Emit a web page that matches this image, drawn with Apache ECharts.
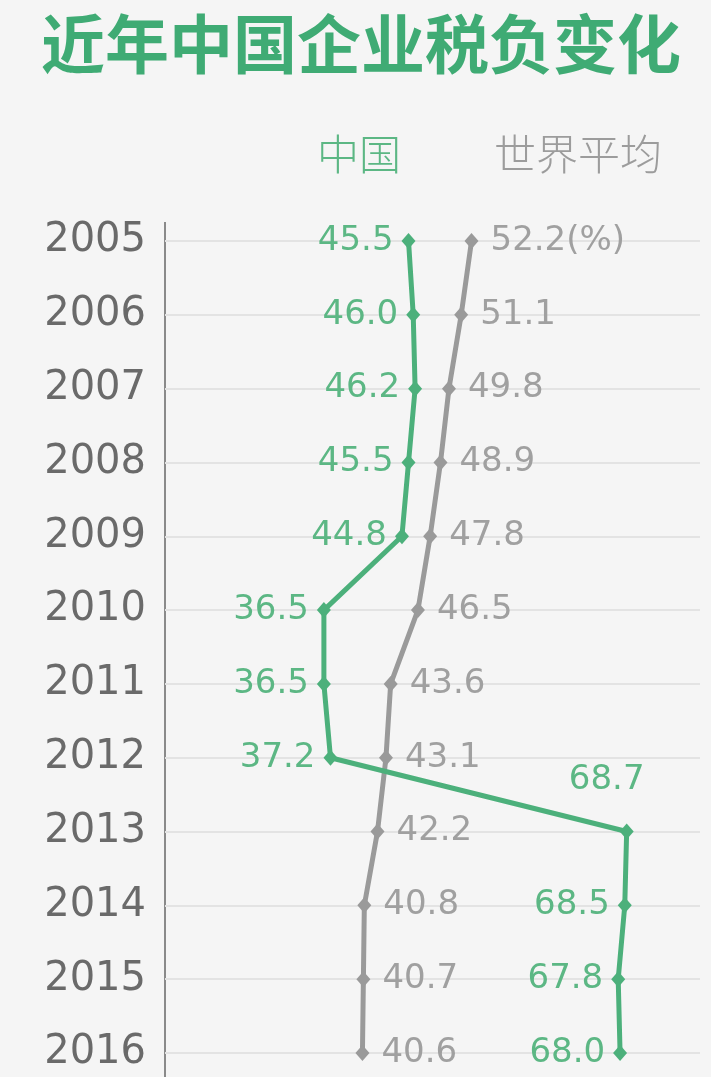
<!DOCTYPE html>
<html><head><meta charset="utf-8">
<script src="https://cdn.jsdelivr.net/npm/echarts@6/dist/echarts.min.js"></script>
<style>html,body{margin:0;padding:0;background:#f5f5f5;}#c{width:711px;height:1077px;}</style>
</head><body><div id="c"></div>
<script>
const years = ['2005','2006','2007','2008','2009','2010','2011','2012','2013','2014','2015','2016'];
const china = [45.5, 46.0, 46.2, 45.5, 44.8, 36.5, 36.5, 37.2, 68.7, 68.5, 67.8, 68.0];
const world = [52.2, 51.1, 49.8, 48.9, 47.8, 46.5, 43.6, 43.1, 42.2, 40.8, 40.7, 40.6];
const seriesNames = ['中国', '世界平均'];
const titleText = '近年中国企业税负变化';

const GREEN = '#4cb07b';
const GRAY = '#9a9a9a';
const numFont = "'DejaVu Sans', sans-serif";
const cjk = "'Noto Sans CJK SC', sans-serif";

const chart = echarts.init(document.getElementById('c'));
chart.setOption({
  backgroundColor: '#f5f5f5',
  animation: false,
  title: {
    text: titleText, left: 36, top: 7,
    textStyle: { fontFamily: cjk, fontSize: 64, fontWeight: 'bold', color: '#3fab74' }
  },
  legend: {
    data: [
      { name: seriesNames[0], textStyle: { color: '#5cb784' } },
      { name: seriesNames[1], textStyle: { color: '#9c9c9c' } }
    ],
    left: 307, top: 128, itemGap: 88, itemWidth: 0, itemHeight: 0, icon: 'rect',
    textStyle: { fontFamily: cjk, fontSize: 42, fontWeight: 300 }
  },
  grid: { left: 165, right: 11, top: 241, bottom: 24 },
  xAxis: {
    type: 'value', min: 19.6, max: 76.5,
    show: false, splitLine: { show: false }
  },
  yAxis: {
    type: 'category', data: years, inverse: true, boundaryGap: false,
    axisLine: { show: false },
    axisTick: { show: false },
    axisLabel: { margin: 19, fontFamily: numFont, fontSize: 40, color: '#6a6a6a' },
    splitLine: { show: true, lineStyle: { color: '#e3e3e3', width: 2 } }
  },
  graphic: [{
    type: 'line', shape: { x1: 165, y1: 222, x2: 165, y2: 1077 },
    style: { stroke: '#8a8a8a', lineWidth: 2 }
  }],
  series: [
    {
      name: seriesNames[0], type: 'line', data: china.map((v, i) => {
        const d = { value: v };
        if (i === 8) d.label = { position: 'top', distance: 26, offset: [-20, 0] };
        return d;
      }),
      color: GREEN,
      lineStyle: { width: 5, color: GREEN },
      symbol: 'diamond', symbolSize: [14, 16], itemStyle: { color: GREEN },
      label: {
        show: true, position: 'left', distance: 8,
        fontFamily: numFont, fontSize: 34, color: '#5cb784',
        formatter: p => p.value.toFixed(1)
      },
      z: 3
    },
    {
      name: seriesNames[1], type: 'line', data: world,
      color: GRAY,
      lineStyle: { width: 5, color: GRAY },
      symbol: 'diamond', symbolSize: [14, 16], itemStyle: { color: GRAY },
      label: {
        show: true, position: 'right', distance: 12,
        fontFamily: numFont, fontSize: 34, color: '#a0a0a0',
        formatter: p => p.value.toFixed(1) + (p.dataIndex === 0 ? '(%)' : '')
      },
      z: 2
    }
  ]
});
</script></body></html>
